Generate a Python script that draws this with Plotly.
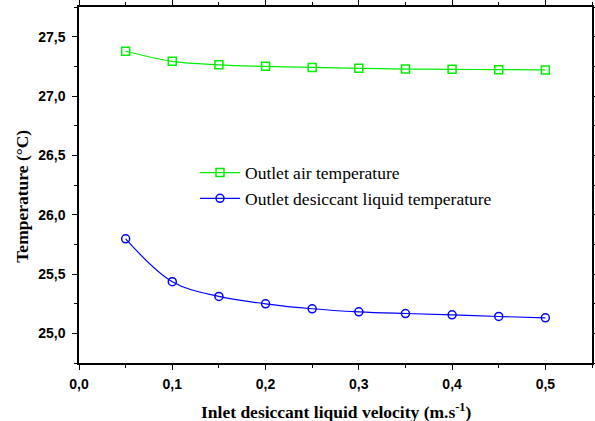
import plotly.graph_objects as go

velocity = [0.05, 0.10, 0.15, 0.20, 0.25, 0.30, 0.35, 0.40, 0.45, 0.50]
air_temp = [27.377, 27.292, 27.263, 27.250, 27.241, 27.233, 27.227, 27.225, 27.222, 27.220]
liquid_temp = [25.796, 25.435, 25.311, 25.249, 25.207, 25.181, 25.167, 25.156, 25.142, 25.131]

x_ticks = [0.0, 0.1, 0.2, 0.3, 0.4, 0.5]
y_ticks = [25.0, 25.5, 26.0, 26.5, 27.0, 27.5]

fig = go.Figure()
fig.add_trace(go.Scatter(
    x=velocity, y=air_temp, mode="lines+markers", name="Outlet air temperature",
    line=dict(color="#00ee00", width=1.2, shape="spline"),
    marker=dict(symbol="square-open", size=8, color="#00ee00", line=dict(width=1.5)),
))
fig.add_trace(go.Scatter(
    x=velocity, y=liquid_temp, mode="lines+markers", name="Outlet desiccant liquid temperature",
    line=dict(color="#0000ff", width=1.2, shape="spline"),
    marker=dict(symbol="circle-open", size=8, color="#0000ff", line=dict(width=1.5)),
))

axis_common = dict(
    showline=True, linecolor="black", linewidth=1.5, mirror="ticks",
    ticks="outside", ticklen=5, tickwidth=1.3, tickcolor="black",
    showgrid=False, zeroline=False, automargin=False,
    tickfont=dict(family="Liberation Sans, Arial", size=14, color="black", weight="bold"),
    tickformat=".1f",
    minor=dict(ticks="outside", ticklen=3, tickwidth=1.2, tickcolor="black", showgrid=False),
)

fig.update_xaxes(range=[0, 0.55], tickvals=x_ticks, minor_dtick=0.05,
                 ticklabelstandoff=2, **axis_common)
fig.update_yaxes(range=[24.75, 27.75], tickvals=y_ticks, minor_dtick=0.25,
                 ticklabelstandoff=4, **axis_common)

title_font = dict(family="Liberation Serif, Times New Roman", size=17.5, color="black")
fig.add_annotation(
    text="<b>Inlet desiccant liquid velocity (m.s<sup>-1</sup>)</b>",
    xref="paper", yref="paper", x=(336 - 79) / 513, y=-(411 - 363.3) / 356,
    xanchor="center", yanchor="middle", showarrow=False, font=title_font,
)
fig.add_annotation(
    text="<b>Temperature (°C)</b>",
    xref="paper", yref="paper", x=(22 - 79) / 513, y=(363.3 - 197) / 356,
    xanchor="center", yanchor="middle", textangle=-90, showarrow=False, font=title_font,
)

fig.update_layout(
    width=595, height=421,
    margin=dict(l=79, r=3, t=7, b=58),
    paper_bgcolor="white", plot_bgcolor="white",
    separators=", ",
    showlegend=True,
    legend=dict(
        x=(195 - 79) / 513, y=(363.3 - 186) / 356, xanchor="left", yanchor="middle",
        bgcolor="rgba(0,0,0,0)", borderwidth=0,
        font=dict(family="Liberation Serif, Times New Roman", size=17.5, color="black"),
        tracegroupgap=0, itemwidth=40,
    ),
)

fig.write_html(
    "out.html",
    config={"displayModeBar": False},
    post_script="document.body.style.margin='0';document.body.style.overflow='hidden';",
)
